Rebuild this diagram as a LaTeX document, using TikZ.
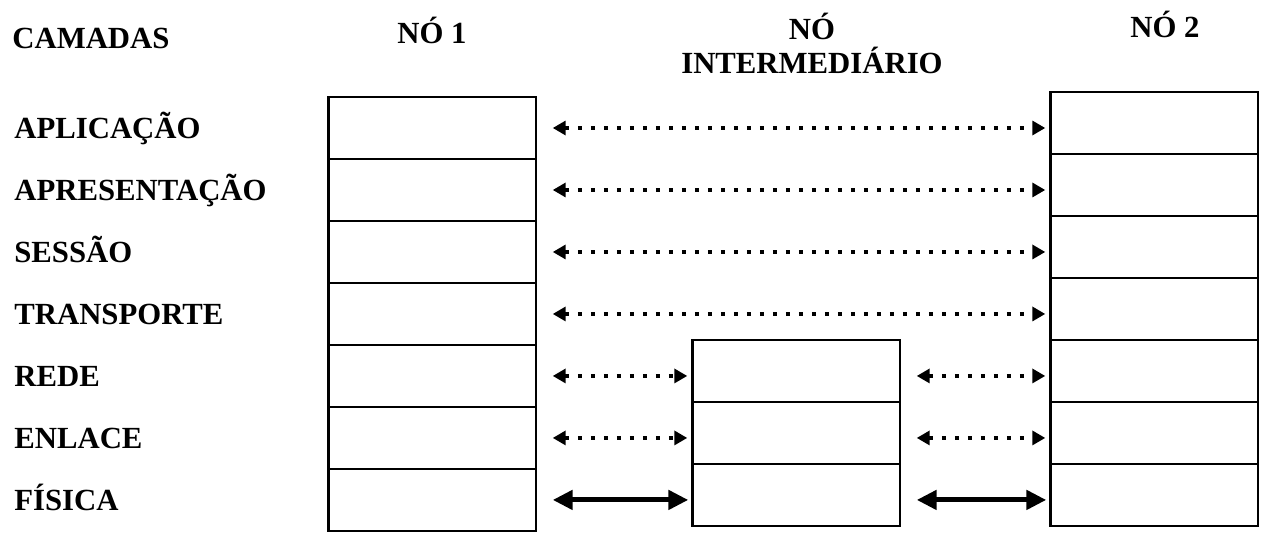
\documentclass[tikz,border=0pt]{standalone}
\usepackage{fontspec}
\setmainfont{Liberation Serif}
\usepackage{tikz}
\usetikzlibrary{arrows.meta,positioning}
\tikzstyle{layerbox} = [
    rectangle,
    draw=black,
    line width=1.4pt,
    minimum width=4.15cm,
    minimum height=1.24cm,
    inner sep=0pt,
    outer sep=0pt
]
\tikzstyle{peer} = [
    line width=2pt,
    dash pattern=on 0.09cm off 0.17cm,
    {Triangle[length=0.26cm,width=0.28cm]}-{Triangle[length=0.26cm,width=0.28cm]},
    shorten <=0.34cm,
    shorten >=0.1cm
]
\tikzstyle{phys} = [
    line width=2.8pt,
    {Triangle[length=0.4cm,width=0.38cm]}-{Triangle[length=0.4cm,width=0.38cm]},
    shorten <=0.34cm,
    shorten >=0.08cm
]
\tikzstyle{title} = [
    inner sep=0pt,
    font=\bfseries\fontsize{17.5}{19}\selectfont
]

\begin{document}
\begin{tikzpicture}[x=0.02cm, y=-0.02cm]
    \useasboundingbox (0,0) rectangle (1270,534);

    % headers
    \node[title, anchor=base west] (camadas) at (12,48) {CAMADAS};
    \node[title, anchor=base] (no1) at (432,43) {NÓ 1};
    \node[title, anchor=base, align=center] (noint) at (812,73) {NÓ\\INTERMEDIÁRIO};
    \node[title, anchor=base] (no2) at (1165,37) {NÓ 2};

    % layer names
    \foreach \name [count=\k] in {APLICAÇÃO,APRESENTAÇÃO,SESSÃO,TRANSPORTE,REDE,ENLACE,FÍSICA}
        \node[title, anchor=base west] (lbl-\k) at (14,{138+62*(\k-1)}) {\name};

    % stacks
    \node[layerbox] (n1-1) at (432,128) {};
    \foreach \i [count=\j from 2] in {1,...,6}
        \node[layerbox, below=0pt of n1-\i] (n1-\j) {};
    \node[layerbox] (n2-1) at (1154,123) {};
    \foreach \i [count=\j from 2] in {1,...,6}
        \node[layerbox, below=0pt of n2-\i] (n2-\j) {};
    \node[layerbox] (mid-5) at (796,371) {};
    \node[layerbox, below=0pt of mid-5] (mid-6) {};
    \node[layerbox, below=0pt of mid-6] (mid-7) {};

    % peer links
    \foreach \i in {1,...,4}
        \draw[peer] (n1-\i.east) -- (n1-\i.east -| n2-\i.west);
    \foreach \i in {5,6} {
        \draw[peer] (n1-\i.east) -- (n1-\i.east -| mid-\i.west);
        \draw[peer] (mid-\i.east |- n1-\i.east) -- (n1-\i.east -| n2-\i.west);
    }
    \draw[phys] (n1-7.east) -- (n1-7.east -| mid-7.west);
    \draw[phys] (mid-7.east |- n1-7.east) -- (n1-7.east -| n2-7.west);
\end{tikzpicture}
\end{document}
